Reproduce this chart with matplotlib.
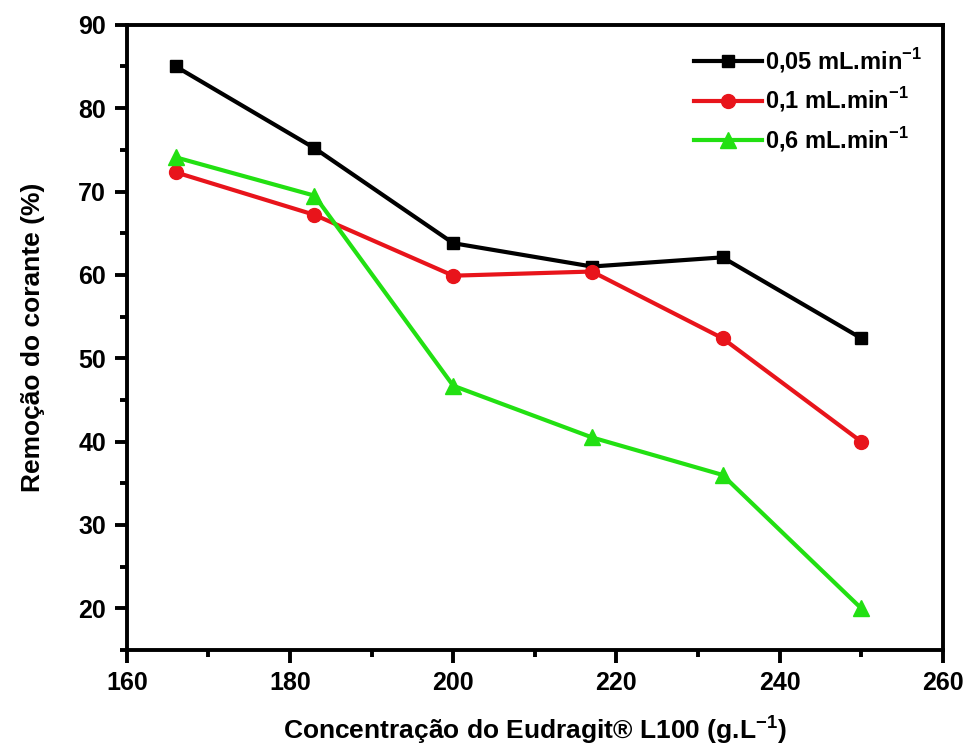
import matplotlib
matplotlib.use("Agg")
import matplotlib.pyplot as plt
from matplotlib.ticker import MultipleLocator

plt.rcParams['font.family'] = ['Liberation Sans', 'DejaVu Sans']
plt.rcParams['font.weight'] = 'bold'
plt.rcParams['mathtext.default'] = 'bf'

# Eudragit L100 concentration (g/L)
concentration = [166, 183, 200, 217, 233, 250]

# dye removal (%) for each flow rate
removal_005 = [85.0, 75.2, 63.8, 61.0, 62.1, 52.4]
removal_01 = [72.3, 67.2, 59.9, 60.4, 52.4, 40.0]
removal_06 = [74.1, 69.5, 46.7, 40.5, 36.0, 20.0]

labels = [r'0,05 mL.min$^{\mathregular{-1}}$', r'0,1 mL.min$^{\mathregular{-1}}$',
          r'0,6 mL.min$^{\mathregular{-1}}$']

fig = plt.figure(figsize=(9.68, 7.51), dpi=100)
ax = fig.add_axes([0.131, 0.1345, 0.843, 0.8325])

ax.plot(concentration, removal_005, color='black', marker='s', ms=9, lw=3, label=labels[0])
ax.plot(concentration, removal_01, color='#e8141b', marker='o', ms=10, lw=3, label=labels[1])
ax.plot(concentration, removal_06, color='#22e012', marker='^', ms=11, lw=3, label=labels[2])

ax.set_xlim(160, 260)
ax.set_ylim(15, 90)
ax.xaxis.set_major_locator(MultipleLocator(20))
ax.xaxis.set_minor_locator(MultipleLocator(10))
ax.yaxis.set_major_locator(MultipleLocator(10))
ax.yaxis.set_minor_locator(MultipleLocator(5))

for sp in ax.spines.values():
    sp.set_linewidth(2.8)
ax.tick_params(which='major', direction='out', length=9, width=2.8, labelsize=18, pad=6)
ax.tick_params(which='minor', direction='out', length=5, width=2.8)
for lab in ax.get_xticklabels() + ax.get_yticklabels():
    lab.set_fontweight('bold')

ax.set_xlabel(r'Concentração do Eudragit® L100 (g.L$^{\mathregular{-1}}$)', fontsize=19,
              fontweight='bold', labelpad=13)
ax.set_ylabel('Remoção do corante (%)', fontsize=19, fontweight='bold', labelpad=24)

leg = ax.legend(loc='upper right', frameon=False, fontsize=17, handlelength=2.9,
                handletextpad=0.1, borderaxespad=0.5, labelspacing=0.45)
for t in leg.get_texts():
    t.set_fontweight('bold')

fig.savefig('out.png', dpi=100)
